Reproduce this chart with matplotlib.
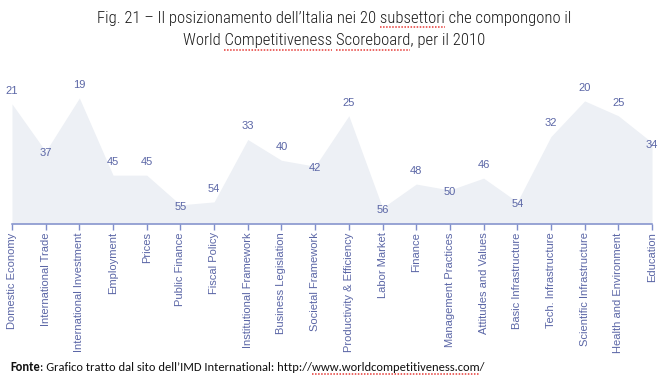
import numpy as np
import matplotlib
matplotlib.use("Agg")
import matplotlib.pyplot as plt
from matplotlib.lines import Line2D

categories = ["Domestic Economy", "International Trade", "International Investment",
              "Employment", "Prices", "Public Finance", "Fiscal Policy",
              "Institutional Framework", "Business Legislation", "Societal Framework",
              "Productivity & Efficiency", "Labor Market", "Finance",
              "Management Practices", "Attitudes and Values", "Basic Infrastructure",
              "Tech. Infrastructure", "Scientific Infrastructure",
              "Health and Environment", "Education"]
ranks = [21, 37, 19, 45, 45, 55, 54, 33, 40, 42, 25, 56, 48, 50, 46, 54, 32, 20, 25, 34]

title_lines = ["Fig. 21 \u2013 Il posizionamento dell\u2019Italia nei 20 subsettori che compongono il",
               "World Competitiveness Scoreboard, per il 2010"]
title_marked = [["subsettori"], ["Competitiveness", "Scoreboard"]]
source_bold = "Fonte"
source_text = ": Grafico tratto dal sito dell\u2019IMD International: http://www.worldcompetitiveness.com/"
source_marked = ["www.worldcompetitiveness.com"]

blue = "#5b66a6"
axis_blue = "#7f8ecb"
fill_col = "#edf0f5"
base = 61.45
W, H = 668, 380

plt.rcParams['font.family'] = ['Liberation Sans', 'DejaVu Sans']

fig = plt.figure(figsize=(W / 100, H / 100), dpi=100)
ax = fig.add_axes([12 / W, 1 - 224 / H, 640 / W, (224 - 41.5) / H])

x = np.arange(len(ranks))
ax.fill_between(x, ranks, base, color=fill_col, lw=0)
ax.set_xlim(0, len(ranks) - 1)
ax.set_ylim(base, 0)

# labels: above the point, except on valleys where they sit on the point
for i, r in enumerate(ranks):
    left = ranks[i - 1] if i > 0 else -1
    right = ranks[i + 1] if i < len(ranks) - 1 else -1
    valley = r > left and r > right
    dy = -1.5 if valley else 9.5
    ax.annotate(str(r), (i, r), xytext=(0, dy), textcoords='offset points',
                ha='center', va='center', fontsize=8, color=blue, clip_on=False)

for s in ['top', 'left', 'right']:
    ax.spines[s].set_visible(False)
ax.spines['bottom'].set_color(axis_blue)
ax.spines['bottom'].set_linewidth(1.1)
ax.set_yticks([])
ax.set_xticks(x)
ax.set_xticklabels(categories, rotation=90, fontsize=8, color=blue)
ax.tick_params(axis='x', direction='out', length=4, width=1, color=axis_blue, pad=2)

renderer = fig.canvas.get_renderer()


def text_width(s, props):
    t = fig.text(0, 0, s, **props)
    w = t.get_window_extent(renderer).width
    t.remove()
    return w


def spell_marks(left, s, words, props, y_px):
    # red dotted "spell check" underline under some words
    for w in words:
        k = s.index(w)
        end = left + text_width(s[:k + len(w)], props)
        start = end - text_width(w, props)
        fig.add_artist(Line2D([start / W, end / W], [1 - y_px / H, 1 - y_px / H],
                              transform=fig.transFigure, color='#e53935', lw=1.1,
                              ls=(0, (1, 1))))


title_props = dict(fontsize=12, color='#1a1a1a', fontweight='light',
                   family=['Roboto Condensed', 'DejaVu Sans'])
for line, marked, yc, yu in zip(title_lines, title_marked, [18, 40], [27, 50]):
    t = fig.text(0.5, 1 - yc / H, line, ha='center', va='center', **title_props)
    spell_marks(t.get_window_extent(renderer).x0, line, marked, title_props, yu)

foot_props = dict(fontsize=9, color='#111111', family=['Carlito', 'DejaVu Sans'])
t1 = fig.text(10 / W, 1 - 367 / H, source_bold, ha='left', va='center',
              fontweight='bold', **foot_props)
t2 = ax.annotate(source_text, xy=(1, 0), xycoords=t1, va='bottom', ha='left',
                 annotation_clip=False, **foot_props)
fig.canvas.draw()
spell_marks(t2.get_window_extent(renderer).x0, source_text, source_marked, foot_props, 374)

fig.savefig("out.png", dpi=100)
